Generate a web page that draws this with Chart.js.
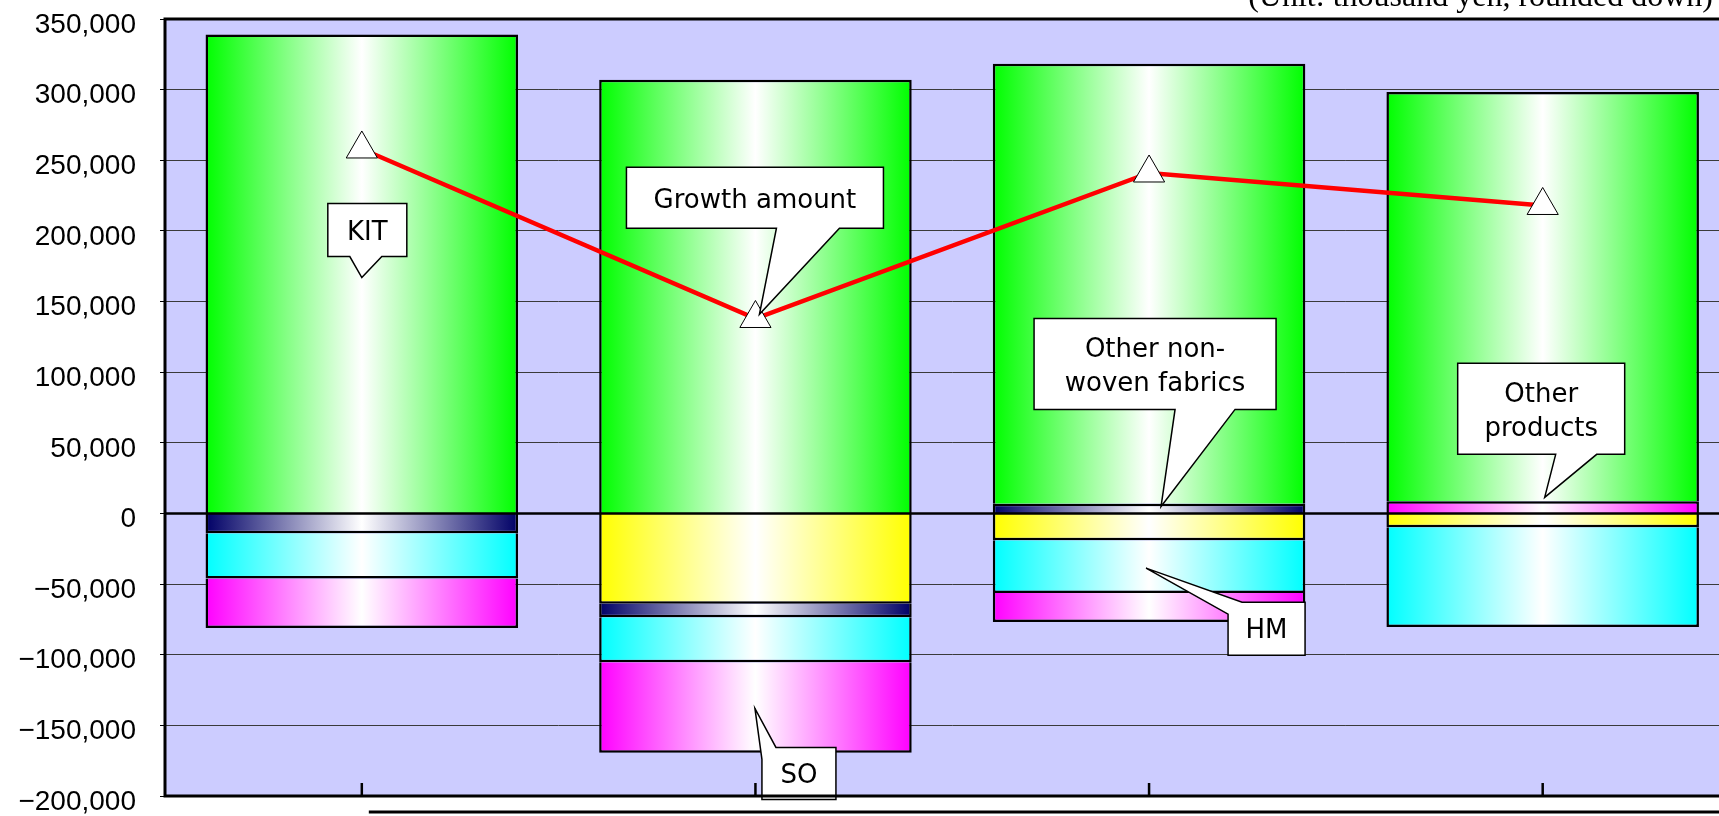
<!DOCTYPE html>
<html>
<head>
<meta charset="utf-8">
<title>Growth amount by product</title>
<script src="https://cdn.jsdelivr.net/npm/chart.js@4.4.1/dist/chart.umd.min.js"></script>
<style>
    html, body { margin: 0; padding: 0; background: #fff; overflow: hidden; }
    #wrap { width: 1760px; height: 816px; }
</style>
</head>
<body>
<div id="wrap"><canvas id="growthChart" width="1760" height="816"></canvas></div>
<script>
    // --- Data (thousand yen) ---
    const periods = ['1', '2', '3', '4'];
    const otherProducts = [null, -64000, -19000, -9700];
    const otherNonwoven = [-14000, -9500, 6800, null];
    const hmValues = [-32000, -31800, -37300, -70700];
    const soValues = [-35000, -64000, -20600, 8600];
    const kitValues = [339000, 307000, 311500, 289700];
    const growthAmount = [258000, 138000, 241000, 218000];
    const yTicks = [-200000, -150000, -100000, -50000, 0, 50000, 100000, 150000, 200000, 250000, 300000, 350000];

    const BAR_FRACTION = 0.794;
    const PLOT_BG = '#CCCCFF';

    // callout boxes, anchored on a category and a y value; box offsets are in px from the tip
    const callouts = [
        { lines: ['KIT'], cat: 0, tipValue: 167000, dx: 0, box: [-34, -74, 79, 53], wedge: ['bottom', 22, 54] },
        { lines: ['Growth amount'], cat: 1, tipValue: 141000, dx: 4, box: [-133, -147, 257, 61], wedge: ['bottom', 150, 213] },
        { lines: ['Other non-', 'woven fabrics'], cat: 2, tipValue: 5000, dx: 12, box: [-127, -188, 242, 91], wedge: ['bottom', 141, 201] },
        { lines: ['HM'], cat: 2, tipValue: -38700, dx: -3, box: [82, 34, 77, 53], wedge: ['corner', 14, 12] },
        { lines: ['SO'], cat: 1, tipValue: -138000, dx: -0.5, box: [7, 39, 74, 52], wedge: ['corner', 14, 12] },
        { lines: ['Other', 'products'], cat: 3, tipValue: 11400, dx: 2, box: [-87, -134, 167, 91], wedge: ['bottom', 98, 139] }
    ];

    // --- Helpers ---
    function formatTick(v) {
        const s = Math.abs(v).toLocaleString('en-US');
        return v < 0 ? '\u2212' + s : s;
    }

    // horizontal sheen: full colour at the edges, white down the middle
    function sheen(color) {
        return function (ctx) {
            const chart = ctx.chart;
            const xs = chart.scales.x;
            if (!chart.chartArea || !xs) return color;
            const cx = xs.getPixelForValue(ctx.dataIndex);
            const half = (xs.getPixelForValue(1) - xs.getPixelForValue(0)) * BAR_FRACTION / 2;
            const g = chart.ctx.createLinearGradient(cx - half, 0, cx + half, 0);
            g.addColorStop(0, color);
            g.addColorStop(0.5, '#ffffff');
            g.addColorStop(1, color);
            return g;
        };
    }

    function barSet(label, data, color) {
        return {
            type: 'bar',
            label: label,
            data: data,
            stack: 'sales',
            order: 1,
            backgroundColor: sheen(color),
            borderColor: '#000',
            borderWidth: 2.5,
            categoryPercentage: 1,
            barPercentage: BAR_FRACTION
        };
    }

    // --- Plugins ---
    const plotFrame = {
        id: 'plotFrame',
        beforeDraw(chart) {
            const { ctx, chartArea: a } = chart;
            ctx.save();
            ctx.fillStyle = '#fff';
            ctx.fillRect(0, 0, chart.width, chart.height);
            ctx.fillStyle = PLOT_BG;
            ctx.fillRect(a.left, a.top, a.right - a.left, a.bottom - a.top);
            ctx.restore();
        },
        afterDatasetsDraw(chart) {
            const { ctx, chartArea: a, scales: { x, y } } = chart;
            ctx.save();
            // zero line over the bars
            const y0 = y.getPixelForValue(0);
            ctx.strokeStyle = '#000';
            ctx.lineWidth = 2.5;
            ctx.beginPath();
            ctx.moveTo(a.left, y0);
            ctx.lineTo(a.right, y0);
            ctx.stroke();

            // callouts
            ctx.font = '26px "DejaVu Sans"';
            ctx.textAlign = 'center';
            ctx.textBaseline = 'middle';
            callouts.forEach(c => {
                const tx = x.getPixelForValue(c.cat) + c.dx;
                const ty = y.getPixelForValue(c.tipValue);
                const L = tx + c.box[0], T = ty + c.box[1];
                const R = L + c.box[2], B = T + c.box[3];
                const pts = [];
                if (c.wedge[0] === 'bottom') {
                    pts.push([L, T], [R, T], [R, B], [L + c.wedge[2], B], [tx, ty], [L + c.wedge[1], B], [L, B]);
                } else {
                    pts.push([L + c.wedge[1], T], [R, T], [R, B], [L, B], [L, T + c.wedge[2]], [tx, ty]);
                }
                ctx.beginPath();
                pts.forEach((p, i) => (i ? ctx.lineTo(p[0], p[1]) : ctx.moveTo(p[0], p[1])));
                ctx.closePath();
                ctx.fillStyle = '#fff';
                ctx.fill();
                ctx.lineWidth = 1.5;
                ctx.strokeStyle = '#000';
                ctx.stroke();

                ctx.fillStyle = '#000';
                const cx = (L + R) / 2, cy = (T + B) / 2 + 3;
                const gap = 34;
                c.lines.forEach((line, i) => {
                    ctx.fillText(line, cx, cy + (i - (c.lines.length - 1) / 2) * gap);
                });
            });
            ctx.restore();
        },
        afterDraw(chart) {
            const { ctx, chartArea: a, scales: { x } } = chart;
            ctx.save();
            ctx.strokeStyle = '#000';
            ctx.lineWidth = 3;
            ctx.strokeRect(a.left, a.top, a.right - a.left, a.bottom - a.top);

            // category ticks pointing up into the plot
            ctx.lineWidth = 2.5;
            periods.forEach((p, i) => {
                const px = x.getPixelForValue(i);
                ctx.beginPath();
                ctx.moveTo(px, a.bottom);
                ctx.lineTo(px, a.bottom - 13);
                ctx.stroke();
            });

            // rule under the plot
            ctx.lineWidth = 3;
            ctx.beginPath();
            ctx.moveTo(x.getPixelForValue(0) + 7, a.bottom + 16);
            ctx.lineTo(chart.width, a.bottom + 16);
            ctx.stroke();

            // unit note
            ctx.fillStyle = '#000';
            ctx.font = '32px "Liberation Serif"';
            ctx.textAlign = 'right';
            ctx.textBaseline = 'alphabetic';
            ctx.fillText('(Unit: thousand yen, rounded down)', 1713, 6);
            ctx.restore();
        }
    };

    // --- Chart ---
    const ctx = document.getElementById('growthChart').getContext('2d');
    new Chart(ctx, {
        data: {
            labels: periods,
            datasets: [
                {
                    type: 'line',
                    label: 'Growth amount',
                    data: growthAmount,
                    stack: 'growth',
                    order: 0,
                    borderColor: '#FF0000',
                    borderWidth: 4.5,
                    pointStyle: 'triangle',
                    pointRadius: 18,
                    pointBackgroundColor: '#fff',
                    pointBorderColor: '#000',
                    pointBorderWidth: 1
                },
                barSet('Other products', otherProducts, '#FFFF00'),
                barSet('Other non-woven fabrics', otherNonwoven, '#000066'),
                barSet('HM', hmValues, '#00FFFF'),
                barSet('SO', soValues, '#FF00FF'),
                barSet('KIT', kitValues, '#00FF00')
            ]
        },
        options: {
            responsive: false,
            animation: false,
            layout: { padding: { top: 17.5, right: 20.5, bottom: 20, left: 0 } },
            plugins: {
                legend: { display: false },
                tooltip: { enabled: false }
            },
            scales: {
                x: { display: false, stacked: true },
                y: {
                    stacked: true,
                    min: -200000,
                    max: 350000,
                    afterFit(scale) {
                        scale.width = 165;
                        scale.paddingTop = 0;
                        scale.paddingBottom = 0;
                    },
                    afterBuildTicks(scale) { scale.ticks = yTicks.map(v => ({ value: v })); },
                    border: { display: false },
                    grid: {
                        color: '#3a3a3a',
                        lineWidth: 1,
                        tickColor: '#000',
                        tickLength: 5
                    },
                    ticks: {
                        color: '#000',
                        padding: 24,
                        labelOffset: 6,
                        font: { family: '"Liberation Sans", Arial, sans-serif', size: 28 },
                        callback: v => formatTick(v)
                    }
                }
            }
        },
        plugins: [plotFrame]
    });
</script>
</body>
</html>
